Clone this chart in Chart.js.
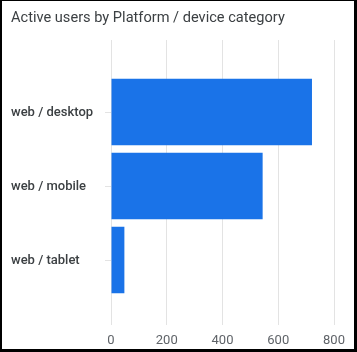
<!DOCTYPE html>
<html>
<head>
<meta charset="utf-8">
<script src="https://cdn.jsdelivr.net/npm/chart.js@4"></script>
<style>
  html, body { margin: 0; padding: 0; background: #000; width: 357px; height: 352px; overflow: hidden; }
  #frame { position: absolute; left: 2px; top: 1px; width: 352px; height: 348px; background: #fff; }
  canvas { display: block; }
</style>
</head>
<body>
<div id="frame"><canvas id="c" width="352" height="348"></canvas></div>
<script>
const titleText = 'Active users by Platform / device category';
const categories = ['web / desktop', 'web / mobile', 'web / tablet'];
const activeUsers = [721, 544, 48];
const xTicks = [0, 200, 400, 600, 800];

const gridColor = '#e3e3e3';

new Chart(document.getElementById('c'), {
  type: 'bar',
  data: {
    labels: categories,
    datasets: [{
      label: 'Active users',
      data: activeUsers,
      backgroundColor: '#1a73e8',
      borderWidth: 0,
      categoryPercentage: 1,
      barPercentage: 0.9,
      xAxisID: 'x'
    }]
  },
  options: {
    indexAxis: 'y',
    responsive: false,
    animation: false,
    devicePixelRatio: 1,
    layout: { padding: { left: 9, right: 20, top: 0, bottom: 0 } },
    plugins: {
      legend: { display: false },
      tooltip: { enabled: false },
      title: {
        display: true,
        text: titleText,
        align: 'start',
        color: '#3c4043',
        font: { family: 'Roboto', size: 14.6, weight: '400', lineHeight: 1.2 },
        padding: { top: 8.5, bottom: 13 }
      }
    },
    scales: {
      x: {
        type: 'linear',
        position: 'bottom',
        min: xTicks[0],
        max: xTicks[xTicks.length - 1],
        afterBuildTicks: (s) => { s.ticks = xTicks.map(v => ({ value: v })); },
        grid: { color: gridColor, tickLength: 28, lineWidth: 1 },
        border: { display: false },
        ticks: {
          color: '#5f6368',
          font: { family: 'Roboto', size: 13 },
          padding: 8
        },
        afterFit: (s) => { s.height = 52; }
      },
      x2: {
        type: 'linear',
        position: 'top',
        min: xTicks[0],
        max: xTicks[xTicks.length - 1],
        afterBuildTicks: (s) => { s.ticks = xTicks.map(v => ({ value: v })); },
        grid: { color: gridColor, tickLength: 35, drawOnChartArea: false },
        border: { display: false },
        ticks: { display: false },
        afterFit: (s) => { s.height = 35; }
      },
      y: {
        position: 'left',
        grid: { display: true, drawOnChartArea: false, offset: false, color: gridColor, tickLength: 6 },
        border: { display: false },
        ticks: {
          color: '#3c4043',
          font: { family: 'Roboto', size: 13, weight: '500' },
          padding: 13,
          crossAlign: 'far',
          labelOffset: 1
        },
        afterFit: (s) => { s.width = 100; }
      }
    }
  }
});
</script>
</body>
</html>
